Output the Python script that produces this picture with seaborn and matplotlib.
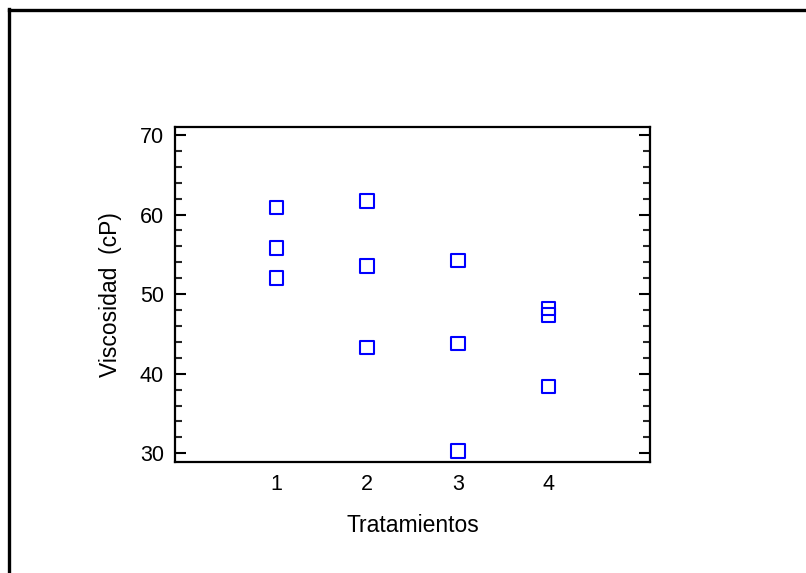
import matplotlib
matplotlib.use("Agg")
import matplotlib.pyplot as plt
from matplotlib.lines import Line2D
from matplotlib.ticker import MultipleLocator
import pandas as pd
import seaborn as sns

# Viscosity readings (cP) for each treatment
tratamiento_1 = [60.9, 55.8, 52.0]
tratamiento_2 = [61.7, 53.5, 43.3]
tratamiento_3 = [54.2, 43.8, 30.3]
tratamiento_4 = [48.2, 47.4, 38.4]
tratamientos = [1, 2, 3, 4]
x_ticks = [1, 2, 3, 4]
y_ticks = [30, 40, 50, 60, 70]

grupos = [tratamiento_1, tratamiento_2, tratamiento_3, tratamiento_4]
df = pd.DataFrame({
    "Tratamientos": [t for t, g in zip(tratamientos, grupos) for _ in g],
    "Viscosidad": [v for g in grupos for v in g],
})

sns.set_style("white")
plt.rcParams["font.family"] = ["Liberation Sans", "DejaVu Sans"]
plt.rcParams["text.color"] = "black"
plt.rcParams["axes.labelcolor"] = "black"
FS = 15.5
FS_LABEL = 16.5

W, H = 806, 573
fig = plt.figure(figsize=(W / 100, H / 100), dpi=100)
ax = fig.add_axes([175 / W, 1 - 462 / H, (650 - 175) / W, (462 - 127) / H])

sns.scatterplot(data=df, x="Tratamientos", y="Viscosidad", ax=ax,
                marker="s", s=95, facecolors="none", edgecolor="#0000ff",
                linewidth=1.5, legend=False)

ax.set_xlim(-0.12, 5.12)
ax.set_ylim(28.9, 71.0)
ax.set_xticks(x_ticks)
ax.set_yticks(y_ticks)
ax.yaxis.set_minor_locator(MultipleLocator(2))
ax.tick_params(axis="x", length=0, pad=9, labelsize=FS, colors="black")
ax.tick_params(axis="y", which="major", direction="in", length=8, width=1.5,
               left=True, right=True, labelsize=FS, pad=8, colors="black")
ax.tick_params(axis="y", which="minor", direction="in", length=5, width=1.5,
               left=True, right=True)
for sp in ax.spines.values():
    sp.set_visible(True)
    sp.set_color("black")
    sp.set_linewidth(1.6)

ax.set_xlabel("Tratamientos", fontsize=FS_LABEL, labelpad=13)
ax.set_ylabel("Viscosidad  (cP)", fontsize=FS_LABEL, labelpad=13)

# Outer frame edges (left and top)
fig.add_artist(Line2D([8.5 / W, 8.5 / W], [0, 1 - 8.5 / H],
                      transform=fig.transFigure, color="black", linewidth=2.4,
                      solid_capstyle="projecting"))
fig.add_artist(Line2D([8.5 / W, 1], [1 - 9.5 / H, 1 - 9.5 / H],
                      transform=fig.transFigure, color="black", linewidth=2.4,
                      solid_capstyle="projecting"))

fig.savefig("out.png", dpi=100, facecolor="white")
